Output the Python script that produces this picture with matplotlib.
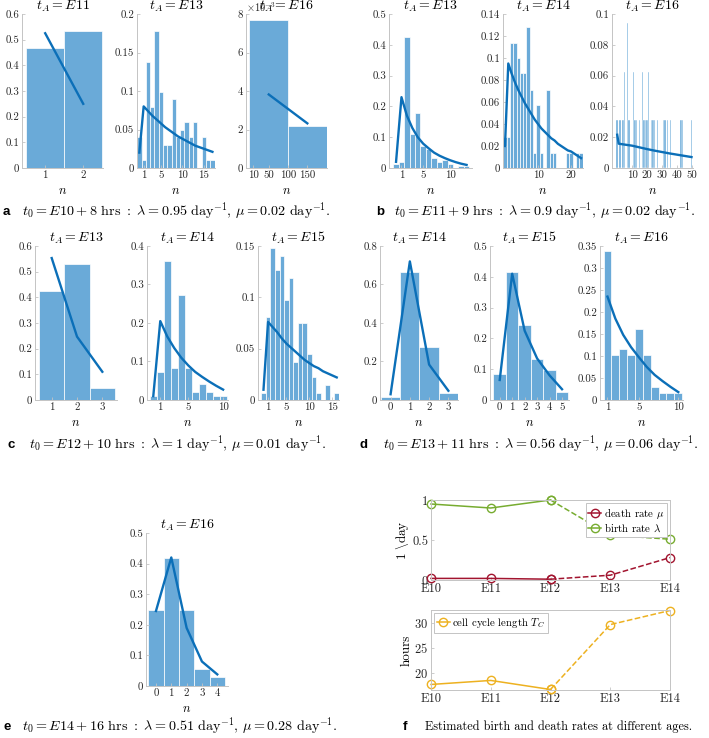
import numpy as np
import matplotlib
matplotlib.use("Agg")
import matplotlib.pyplot as plt
from matplotlib.lines import Line2D

plt.rcParams['font.family'] = 'serif'
plt.rcParams['font.serif'] = ['cmr10']
plt.rcParams['mathtext.fontset'] = 'cm'
plt.rcParams['axes.unicode_minus'] = False
plt.rcParams['axes.formatter.use_mathtext'] = True

W, H = 709, 738
BAR = '#6aaad8'
LINE = '#0b6fb8'
SPINE = '#c4c4c4'

# ---- data ----
# a) t0 = E10 + 8 hrs
a1_n = [1, 2]
a1_p = [0.467, 0.533]
a1_fit_n = [1, 2]
a1_fit = [0.525, 0.25]

a2_n = list(range(0, 18))
a2_p = [0.04, 0.01, 0.138, 0.079, 0.178, 0.099, 0.03, 0.03, 0.089, 0.04,
        0.05, 0.06, 0.04, 0.06, 0.0, 0.04, 0.01, 0.01]
a2_fit = [0.02, 0.08, 0.074, 0.068, 0.063, 0.058, 0.053, 0.049, 0.045, 0.041,
          0.038, 0.035, 0.032, 0.029, 0.027, 0.025, 0.023, 0.021]

a3_n = [50, 150]
a3_p = [7.71e-3, 2.19e-3]
a3_fit_n = [50, 150]
a3_fit = [3.82e-3, 2.32e-3]

# b) t0 = E11 + 9 hrs
b1_n = list(range(0, 14))
b1_p = [0.012, 0.018, 0.425, 0.11, 0.178, 0.072, 0.062, 0.033, 0.018, 0.025,
        0.012, 0.0, 0.006, 0.006]
b1_fit = [0.02, 0.23, 0.17, 0.13, 0.1, 0.079, 0.064, 0.05, 0.04, 0.032,
          0.025, 0.019, 0.014, 0.01]

b2_n = list(range(0, 24))
b2_p = [0.028, 0.028, 0.114, 0.114, 0.1, 0.086, 0.086, 0.128, 0.071, 0.014,
        0.057, 0.014, 0.0, 0.071, 0.014, 0.014, 0.0, 0.0, 0.0, 0.014,
        0.014, 0.0, 0.014, 0.014]
b2_fit = [0.02, 0.095, 0.086, 0.078, 0.071, 0.065, 0.059, 0.054, 0.049, 0.044,
          0.04, 0.036, 0.033, 0.03, 0.027, 0.025, 0.022, 0.02, 0.018, 0.016,
          0.015, 0.013, 0.011, 0.009]

b3_n = [0, 2, 4, 5, 7, 8, 11, 12, 13, 15, 17, 18, 19, 20, 21, 23, 24, 25, 27,
        31, 32, 34, 36, 43, 44, 50]
b3_p = [0.031, 0.031, 0.031, 0.0625, 0.094, 0.031, 0.0625, 0.031, 0.031, 0.031,
        0.0625, 0.031, 0.031, 0.031, 0.0625, 0.031, 0.031, 0.031, 0.031,
        0.031, 0.031, 0.031, 0.031, 0.031, 0.031, 0.031]
b3_fit_n = [0, 1, 5, 10, 15, 20, 25, 30, 35, 40, 45, 50]
b3_fit = [0.0216, 0.0158, 0.0152, 0.0145, 0.0134, 0.0123, 0.0113, 0.0104,
          0.0095, 0.0087, 0.0079, 0.0071]

# c) t0 = E12 + 10 hrs
c1_n = [1, 2, 3]
c1_p = [0.425, 0.53, 0.045]
c1_fit = [0.553, 0.247, 0.11]

c2_n = list(range(0, 11))
c2_p = [0.01, 0.073, 0.36, 0.083, 0.274, 0.083, 0.021, 0.041, 0.021, 0.01, 0.01]
c2_fit = [0.01, 0.205, 0.165, 0.135, 0.11, 0.09, 0.073, 0.06, 0.048, 0.037, 0.027]

c3_n = list(range(0, 17))
c3_p = [0.007, 0.081, 0.148, 0.127, 0.14, 0.097, 0.119, 0.037, 0.075, 0.075,
        0.045, 0.022, 0.007, 0.0, 0.015, 0.0, 0.007]
c3_fit = [0.01, 0.076, 0.071, 0.066, 0.06, 0.055, 0.051, 0.047, 0.043, 0.039,
          0.036, 0.033, 0.031, 0.028, 0.026, 0.024, 0.022]

# d) t0 = E13 + 11 hrs
d1_n = [0, 1, 2, 3]
d1_p = [0.017, 0.664, 0.276, 0.034]
d1_fit = [0.03, 0.72, 0.184, 0.048]

d2_n = [0, 1, 2, 3, 4, 5]
d2_p = [0.085, 0.414, 0.242, 0.133, 0.097, 0.025]
d2_fit = [0.065, 0.41, 0.225, 0.135, 0.08, 0.035]

d3_n = list(range(1, 11))
d3_p = [0.338, 0.102, 0.117, 0.102, 0.162, 0.102, 0.029, 0.015, 0.015, 0.015]
d3_fit = [0.235, 0.185, 0.148, 0.12, 0.097, 0.075, 0.057, 0.043, 0.03, 0.018]

# e) t0 = E14 + 16 hrs
e1_n = [0, 1, 2, 3, 4]
e1_p = [0.25, 0.417, 0.25, 0.056, 0.028]
e1_fit = [0.245, 0.42, 0.19, 0.08, 0.038]

# f) rates
ages = ['E10', 'E11', 'E12', 'E13', 'E14']
death_rate = [0.02, 0.02, 0.01, 0.06, 0.28]
birth_rate = [0.95, 0.9, 1.0, 0.56, 0.51]
cycle_len = [17.7, 18.5, 16.7, 29.6, 32.4]


fig = plt.figure(figsize=(W / 100, H / 100), dpi=100)


def px(l, t, r, b):
    return [l / W, 1 - b / H, (r - l) / W, (b - t) / H]


def fmt(v):
    return '%g' % v


def style(ax, box=False):
    for s in ['left', 'bottom', 'top', 'right']:
        ax.spines[s].set_color(SPINE)
        ax.spines[s].set_linewidth(0.7)
    if not box:
        ax.spines['top'].set_visible(False)
        ax.spines['right'].set_visible(False)
    ax.tick_params(direction='in', length=2, width=0.6, color=SPINE,
                   labelsize=7.8, pad=2, labelcolor='#262626')


def hist(rect, n, p, fn, fp, tA, ylim, yticks, xticks, xlim, width=1, lw=0.5):
    ax = fig.add_axes(px(*rect))
    ax.bar(n, p, width=width, color=BAR, edgecolor='white', linewidth=lw)
    ax.plot(fn, fp, color=LINE, lw=1.7)
    ax.set_ylim(*ylim)
    ax.set_xlim(*xlim)
    ax.set_yticks(yticks)
    ax.set_yticklabels([fmt(v) for v in yticks])
    ax.set_xticks(xticks)
    ax.set_xticklabels([fmt(v) for v in xticks])
    ax.set_title(r'$t_A = %s$' % tA, fontsize=10, pad=2)
    ax.set_xlabel(r'$n$', fontsize=9, labelpad=3)
    style(ax)
    return ax


# row 1
hist((22, 14, 103, 168), a1_n, a1_p, a1_fit_n, a1_fit, 'E11',
     (0, 0.6), np.arange(0, 0.61, 0.1).round(1), [1, 2], (0.39, 2.52))
hist((137, 14, 215, 168), a2_n, a2_p, a2_n, a2_fit, 'E13',
     (0, 0.2), [0, 0.05, 0.1, 0.15, 0.2], [1, 5, 10, 15], (-0.55, 17.6))
ax = hist((246, 14, 327, 168), a3_n, a3_p, a3_fit_n, a3_fit, 'E16',
          (0, 8e-3), [0, 2e-3, 4e-3, 6e-3, 8e-3], [10, 50, 100, 150], (-9, 201),
          width=100)
ax.set_yticklabels(['0', '2', '4', '6', '8'])
ax.text(0, 1.0, r'$\times10^{-3}$', transform=ax.transAxes, fontsize=7.5,
        ha='left', va='bottom', color='#262626')

hist((389, 14, 472, 168), b1_n, b1_p, b1_n, b1_fit, 'E13',
     (0, 0.5), [0, 0.1, 0.2, 0.3, 0.4, 0.5], [1, 5, 10], (-1.3, 14))
hist((503, 14, 583, 168), b2_n, b2_p, b2_n, b2_fit, 'E14',
     (0, 0.14), np.arange(0, 0.141, 0.02).round(2), [10, 20], (-0.6, 23.6))
hist((612, 14, 693, 168), b3_n, b3_p, b3_fit_n, b3_fit, 'E16',
     (0, 0.1), [0, 0.02, 0.04, 0.06, 0.08, 0.1], [10, 20, 30, 40, 50],
     (-3.5, 51), lw=0.3)

# row 2
hist((35, 246, 117, 400), c1_n, c1_p, c1_n, c1_fit, 'E13',
     (0, 0.6), np.arange(0, 0.61, 0.1).round(1), [1, 2, 3], (0.34, 3.58))
hist((147, 246, 228, 400), c2_n, c2_p, c2_n, c2_fit, 'E14',
     (0, 0.4), [0, 0.1, 0.2, 0.3, 0.4], [1, 5, 10], (-0.9, 10.7))
hist((258, 246, 339, 400), c3_n, c3_p, c3_n, c3_fit, 'E15',
     (0, 0.15), [0, 0.05, 0.1, 0.15], [1, 5, 10, 15], (-1.2, 16.5))

hist((380, 246, 458, 400), d1_n, d1_p, d1_n, d1_fit, 'E14',
     (0, 0.8), [0, 0.2, 0.4, 0.6, 0.8], [0, 1, 2, 3], (-0.55, 3.5))
hist((490, 246, 569, 400), d2_n, d2_p, d2_n, d2_fit, 'E15',
     (0, 0.5), [0, 0.1, 0.2, 0.3, 0.4, 0.5], [0, 1, 2, 3, 4, 5], (-0.78, 5.56))
hist((600, 246, 683, 400), d3_n, d3_p, d3_n, d3_fit, 'E16',
     (0, 0.35), np.arange(0, 0.351, 0.05).round(2), [1, 5, 10], (0.05, 10.6))

# row 3
hist((146, 533, 228, 686), e1_n, e1_p, e1_n, e1_fit, 'E16',
     (0, 0.5), [0, 0.1, 0.2, 0.3, 0.4, 0.5], [0, 1, 2, 3, 4], (-0.65, 4.7))

# panel f
x = np.arange(len(ages))
RED, GREEN, YEL = '#a2142f', '#77ac30', '#edb120'
mk = dict(marker='o', mfc='none', ms=6, mew=1.0, lw=1.1, clip_on=False)

axf1 = fig.add_axes(px(431, 500, 670, 580))
axf1.plot(x[:3], death_rate[:3], color=RED, **mk)
axf1.plot(x[2:], death_rate[2:], color=RED, ls='--', **mk)
axf1.plot(x[:3], birth_rate[:3], color=GREEN, **mk)
axf1.plot(x[2:], birth_rate[2:], color=GREEN, ls='--', **mk)
axf1.set_xlim(0, 4)
axf1.set_ylim(0, 1)
axf1.set_yticks([0, 0.5, 1])
axf1.set_yticklabels(['0', '0.5', '1'])
axf1.set_xticks(x)
axf1.set_xticklabels(ages)
axf1.set_ylabel(r'$1\ \backslash \mathrm{day}$', fontsize=9.5, labelpad=1)
style(axf1, box=True)
axf1.tick_params(labelsize=9)
h1 = [Line2D([], [], color=RED, marker='o', mfc='none', ms=6, lw=1.1),
      Line2D([], [], color=GREEN, marker='o', mfc='none', ms=6, lw=1.1)]
leg = axf1.legend(h1, [r'death rate $\mu$', r'birth rate $\lambda$'],
                  loc='upper right', fontsize=7.8, handlelength=1.2,
                  handletextpad=0.2, borderpad=0.25, labelspacing=0.1,
                  fancybox=False, framealpha=1, edgecolor=SPINE,
                  borderaxespad=0.3)
leg.get_frame().set_linewidth(0.7)

axf2 = fig.add_axes(px(431, 610, 670, 690))
axf2.plot(x[:3], cycle_len[:3], color=YEL, **mk)
axf2.plot(x[2:], cycle_len[2:], color=YEL, ls='--', **mk)
axf2.set_xlim(0, 4)
axf2.set_ylim(16.6, 32.5)
axf2.set_yticks([20, 25, 30])
axf2.set_xticks(x)
axf2.set_xticklabels(ages)
axf2.set_ylabel('hours', fontsize=9.5, labelpad=1)
style(axf2, box=True)
axf2.tick_params(labelsize=9)
h2 = [Line2D([], [], color=YEL, marker='o', mfc='none', ms=6, lw=1.1)]
leg = axf2.legend(h2, [r'cell cycle length $T_C$'], loc='upper left',
                  fontsize=7.8, handlelength=1.2, handletextpad=0.2,
                  borderpad=0.25, fancybox=False, framealpha=1,
                  edgecolor=SPINE, borderaxespad=0.3)
leg.get_frame().set_linewidth(0.7)

# captions
CAP = 10.2


def caption(xl, xt, y, letter, txt, size=CAP):
    fig.text(xl / W, 1 - y / H, letter, fontsize=9.5, fontweight='bold',
             family='Liberation Sans', va='center', ha='left')
    fig.text(xt / W, 1 - y / H, txt, fontsize=size, va='center', ha='left')


caption(3, 22, 212, 'a',
        r'$t_0 = E10 + 8\ \mathrm{hrs}\ :\ \lambda = 0.95\ \mathrm{day}^{-1},\,'
        r'\mu = 0.02\ \mathrm{day}^{-1}.$')
caption(376, 394, 212, 'b',
        r'$t_0 = E11 + 9\ \mathrm{hrs}\ :\ \lambda = 0.9\ \mathrm{day}^{-1},\,'
        r'\mu = 0.02\ \mathrm{day}^{-1}.$')
caption(7, 29, 445, 'c',
        r'$t_0 = E12 + 10\ \mathrm{hrs}\ :\ \lambda = 1\ \mathrm{day}^{-1},\,'
        r'\mu = 0.01\ \mathrm{day}^{-1}.$')
caption(360, 383, 445, 'd',
        r'$t_0 = E13 + 11\ \mathrm{hrs}\ :\ \lambda = 0.56\ \mathrm{day}^{-1},\,'
        r'\mu = 0.06\ \mathrm{day}^{-1}.$')
caption(3, 22, 727, 'e',
        r'$t_0 = E14 + 16\ \mathrm{hrs}\ :\ \lambda = 0.51\ \mathrm{day}^{-1},\,'
        r'\mu = 0.28\ \mathrm{day}^{-1}.$')
caption(403, 425, 727, 'f',
        'Estimated birth and death rates at different ages.', size=8.8)

plt.savefig('out.png', dpi=100)
